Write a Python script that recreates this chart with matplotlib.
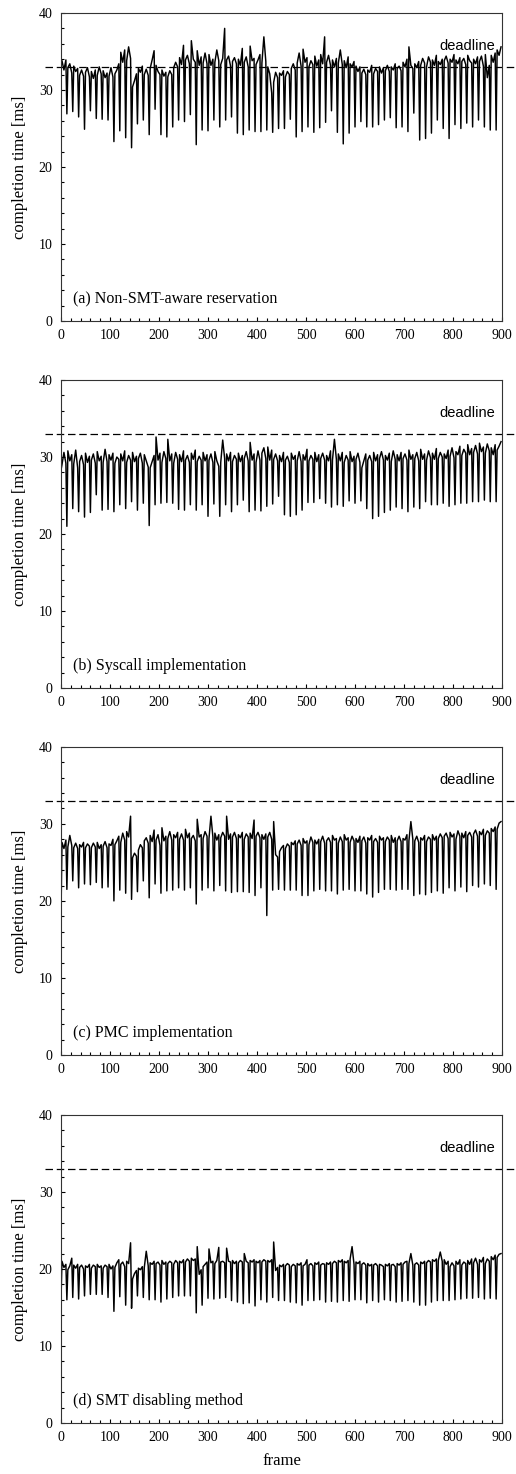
import numpy as np
import matplotlib
matplotlib.use('Agg')
import matplotlib.pyplot as plt
from matplotlib.ticker import MultipleLocator

plt.rcParams['font.family'] = ['Liberation Serif', 'DejaVu Serif']

# Datos: tiempo de finalizacion por frame [ms]
# Linea base muestreada cada 4 frames (2, 6, 10, ..., 898)
base_frames = np.arange(2, 900, 4)
# Caidas periodicas (una cada 12 frames, empezando en el frame 0)
dip_frames = np.arange(0, 889, 12)

base_a = [
    33.8, 32.6, 33.9, 32.9, 33.4, 32.2, 33.1, 32.4, 32.8, 31.9, 32.6, 31.8, 32.3, 32.9, 31.7,
    32.4, 31.5, 32.6, 31.9, 33.0, 32.1, 32.5, 31.6, 32.2, 31.8, 32.9, 31.7, 32.1, 32.6, 33.4,
    34.9, 33.6, 35.2, 33.8, 35.6, 34.1, 30.4, 31.2, 32.1, 32.8, 32.3, 33.1, 32.0, 32.7, 31.9,
    32.8, 33.9, 35.1, 33.2, 32.4, 32.0, 32.6, 31.8, 32.3, 31.7, 32.5, 32.0, 32.9, 33.6, 33.0,
    34.2, 33.3, 35.8, 33.9, 34.5, 33.4, 36.4, 34.0, 33.6, 35.1, 33.2, 34.3, 33.5, 34.8, 33.4,
    34.6, 33.2, 34.0, 33.6, 35.2, 33.8, 33.3, 34.1, 38.0, 33.9, 34.4, 33.1, 33.7, 34.2, 33.4,
    34.0, 33.2, 35.4, 33.6, 34.3, 33.0, 35.7, 33.8, 34.1, 33.3, 33.9, 34.6, 33.5, 36.9, 33.7,
    33.0, 32.1, 29.6, 31.0, 32.3, 31.6, 32.2, 31.9, 32.5, 31.7, 32.4, 32.0, 32.8, 33.4, 32.6,
    33.5, 34.8, 33.1, 35.3, 33.6, 34.2, 33.0, 33.8, 33.3, 34.4, 33.1, 33.9, 34.6, 33.4, 36.9,
    33.6, 34.5, 33.2, 33.9, 33.0, 34.1, 33.5, 35.2, 33.3, 33.8, 32.9, 34.3, 33.4, 33.0, 33.7,
    33.1, 32.4, 33.0, 32.2, 32.7, 32.0, 32.6, 32.3, 33.2, 32.1, 32.8, 32.4, 33.0, 32.2, 32.9,
    32.5, 33.2, 32.4, 33.0, 32.6, 33.4, 32.8, 33.1, 32.5, 33.6, 33.0, 34.0, 35.6, 33.2, 32.8,
    33.4, 32.9, 33.7, 33.2, 34.1, 33.5, 33.0, 34.3, 33.6, 33.9, 33.2, 34.5, 33.7, 33.3, 34.0,
    33.8, 34.4, 33.5, 34.0, 33.6, 34.6, 33.9, 33.4, 34.2, 33.7, 34.1, 33.3, 34.5, 33.8, 33.5,
    34.0, 33.4, 34.3, 33.7, 34.4, 33.1, 34.6, 31.6, 33.2, 34.5, 33.6, 34.8, 35.2, 34.5, 35.6,
]
dip_a = [
    33.5, 26.9, 27.2, 26.5, 24.9, 27.3, 26.3, 26.2, 26.1, 23.3, 24.7,
    23.8, 22.5, 25.6, 26.1, 24.2, 27.5, 24.2, 23.9, 25.2, 26.1,
    25.9, 26.8, 22.9, 24.8, 24.7, 26.1, 25.2, 26.1, 26.5, 24.4,
    24.2, 24.8, 24.6, 24.6, 24.8, 24.5, 25.0, 25.0, 26.2, 23.9,
    24.6, 25.2, 24.5, 25.1, 25.8, 27.3, 24.5, 23.0, 24.4, 25.2,
    25.9, 25.2, 25.2, 25.5, 26.1, 26.4, 25.1, 25.2, 24.6, 27.0,
    23.5, 23.7, 24.4, 26.1, 25.0, 23.7, 25.5, 25.0, 25.7, 25.2,
    26.1, 25.2, 24.8, 24.8,
]

base_b = [
    29.0, 30.6, 29.2, 30.8, 29.5, 30.3, 29.1, 30.9, 28.6, 29.4, 30.2, 29.0, 30.5, 29.3, 30.1,
    29.6, 30.4, 29.2, 30.7, 29.5, 30.1, 29.3, 31.0, 29.4, 30.3, 29.6, 30.5, 29.2, 30.0, 29.7,
    30.4, 29.5, 30.8, 29.3, 30.2, 29.6, 30.6, 29.4, 30.1, 29.8, 30.5, 29.2, 30.3, 29.5, 28.7,
    28.6, 29.4, 30.2, 32.6, 29.6, 30.5, 29.3, 30.7, 29.8, 32.3, 29.5, 30.4, 29.2, 30.6, 29.7,
    30.3, 29.4, 30.8, 29.6, 30.2, 29.3, 30.5, 29.7, 30.9, 29.4, 30.1, 29.6, 30.6, 29.5, 30.3,
    29.6, 30.4, 29.3, 30.7, 29.5, 28.8, 29.3, 32.2, 29.8, 30.4, 29.5, 30.6, 29.4, 30.2, 29.7,
    30.5, 29.4, 30.2, 29.8, 30.7, 29.5, 31.9, 29.6, 30.4, 29.3, 30.8, 29.6, 30.5, 31.2, 29.8,
    31.3, 29.6, 30.9, 29.7, 30.4, 29.5, 30.2, 29.4, 30.6, 29.6, 30.1, 29.3, 30.5, 29.7, 30.2,
    29.5, 30.7, 29.4, 30.3, 29.6, 31.0, 29.5, 30.2, 29.7, 30.6, 29.4, 30.3, 29.8, 30.5, 29.6,
    30.2, 29.5, 30.8, 29.6, 32.3, 29.7, 30.4, 29.5, 30.6, 29.3, 30.2, 29.6, 30.7, 29.4, 30.1,
    29.7, 30.5, 29.3, 28.6, 29.5, 30.4, 29.6, 30.2, 29.4, 30.6, 29.5, 30.3, 29.8, 30.7, 29.6,
    30.2, 29.6, 30.5, 29.4, 30.8, 29.7, 30.3, 29.5, 30.6, 29.8, 30.4, 29.6, 30.9, 29.7, 30.3,
    29.8, 30.6, 29.5, 31.0, 29.7, 30.4, 29.6, 30.8, 29.9, 30.5, 29.7, 31.1, 29.8, 30.6, 30.0,
    30.4, 29.8, 30.9, 30.1, 31.2, 29.9, 30.7, 30.3, 31.4, 30.2, 31.0, 30.5, 31.6, 30.3, 31.1,
    30.6, 31.5, 30.4, 31.8, 30.7, 31.3, 30.5, 31.7, 30.8, 31.2, 30.3, 31.6, 30.9, 31.4, 32.0,
]
dip_b = [
    28.3, 21.0, 23.3, 22.9, 22.2, 22.8, 25.1, 23.1, 23.2, 22.9, 23.8,
    23.3, 24.2, 23.1, 24.0, 21.1, 23.8, 24.0, 24.1, 24.0, 23.2,
    23.1, 23.8, 23.1, 23.8, 22.3, 23.9, 22.3, 23.8, 22.9, 23.8,
    24.4, 22.9, 23.1, 23.0, 23.6, 23.9, 24.9, 22.5, 22.3, 22.5,
    23.1, 24.1, 24.1, 24.6, 24.0, 23.5, 23.8, 23.6, 24.3, 24.0,
    24.3, 23.3, 22.0, 22.3, 22.8, 23.1, 23.5, 23.3, 22.9, 23.5,
    23.3, 24.2, 23.8, 23.8, 24.0, 23.6, 23.8, 24.0, 24.0, 24.2,
    24.2, 24.4, 24.2, 24.2,
]

base_c = [
    27.6, 26.8, 27.9, 27.0, 28.5, 27.2, 26.9, 27.5, 26.8, 27.3, 27.0, 27.6, 26.9, 27.4, 27.1,
    26.9, 27.5, 27.0, 27.6, 26.8, 27.3, 27.1, 27.7, 26.9, 27.4, 27.2, 28.0, 27.3, 27.8, 28.4,
    27.6, 28.8, 27.9, 29.0, 28.3, 31.0, 25.6, 26.2, 25.8, 26.6, 27.3, 26.9, 27.8, 28.2, 27.5,
    28.5, 27.7, 29.2, 27.9, 28.6, 27.2, 29.5, 27.8, 28.4, 28.1, 29.0, 27.9, 28.6, 28.2, 28.9,
    28.0, 28.7, 27.9, 29.3, 28.2, 28.8, 28.1, 28.5, 27.8, 30.6, 28.3, 28.6, 28.1, 29.0, 28.4,
    28.1, 31.0, 28.3, 28.8, 27.9, 28.6, 28.2, 28.9, 28.4, 31.0, 28.0, 28.7, 28.3, 28.9, 28.1,
    28.6, 28.2, 28.9, 28.0, 28.7, 28.3, 28.8, 28.1, 30.5, 28.4, 28.9, 28.2, 28.6, 28.0, 28.7,
    28.3, 28.9, 28.0, 30.3, 26.0, 25.7, 26.4, 26.9, 27.2, 26.8, 27.4, 27.1, 27.6, 27.3, 27.8,
    27.4, 27.9, 27.2, 28.1, 27.5, 27.8, 27.3, 28.3, 27.6, 27.9, 27.4, 28.0, 27.7, 28.4, 27.5,
    27.8, 28.2, 27.6, 28.5, 27.9, 28.1, 27.5, 28.3, 27.7, 28.6, 27.9, 28.2, 27.6, 28.4, 27.8,
    28.1, 27.6, 28.4, 27.8, 28.3, 27.5, 28.2, 27.9, 28.5, 27.7, 28.1, 27.6, 28.4, 27.9, 28.2,
    27.7, 28.3, 27.9, 28.5, 27.6, 28.2, 27.8, 28.4, 27.7, 28.1, 27.9, 28.6, 27.8, 30.3, 28.0,
    27.8, 28.4, 27.6, 28.2, 27.9, 28.5, 27.7, 28.3, 28.0, 28.6, 27.9, 28.4, 28.1, 28.7, 28.2,
    28.4, 28.8, 28.1, 28.9, 28.3, 28.7, 28.0, 29.1, 28.4, 28.8, 28.2, 29.0, 28.5, 28.9, 28.3,
    28.7, 29.2, 28.4, 29.0, 28.6, 29.3, 28.5, 29.1, 28.8, 29.4, 29.0, 29.6, 29.3, 30.1, 30.3,
]
dip_c = [
    18.0, 21.5, 22.6, 21.7, 22.2, 22.1, 22.4, 21.7, 21.8, 20.0, 21.4,
    21.0, 20.2, 21.2, 22.6, 20.4, 22.2, 21.0, 21.3, 21.4, 21.7,
    21.4, 21.7, 19.6, 21.4, 21.7, 21.3, 22.0, 21.3, 21.1, 21.2,
    21.2, 21.1, 20.7, 21.7, 18.1, 21.4, 21.5, 21.4, 21.4, 21.4,
    20.7, 20.7, 21.3, 21.5, 21.3, 21.3, 20.9, 21.4, 21.5, 21.3,
    21.3, 20.9, 20.5, 21.1, 21.5, 21.5, 21.4, 21.5, 21.5, 20.7,
    20.9, 20.8, 21.1, 21.3, 21.0, 21.7, 21.3, 21.8, 21.2, 22.0,
    21.8, 22.2, 22.0, 21.5,
]

base_d = [
    21.0, 20.2, 20.6, 19.9, 20.4, 21.4, 20.5, 20.1, 20.6, 20.2, 20.5, 20.0, 20.4, 20.2, 20.6,
    20.1, 20.5, 20.3, 20.6, 20.2, 20.4, 20.1, 20.5, 20.3, 20.6, 20.0, 20.4, 20.2, 20.8, 21.2,
    20.6, 20.9, 20.3, 21.0, 20.7, 23.4, 18.7, 19.4, 19.8, 20.1, 19.9, 20.3, 20.2, 22.3, 20.4,
    20.8, 20.6, 21.0, 20.7, 20.9, 20.5, 21.1, 20.6, 20.9, 20.7, 21.0, 20.8, 20.6, 21.1, 20.8,
    21.0, 20.8, 21.2, 20.9, 21.3, 21.0, 21.4, 21.1, 21.3, 22.9, 19.3, 19.9, 20.3, 20.6, 20.9,
    22.6, 20.8, 21.0, 20.7, 21.1, 22.8, 20.9, 21.0, 20.8, 22.7, 21.0, 20.9, 21.1, 20.7, 21.0,
    20.8, 21.1, 20.9, 22.0, 21.0, 20.8, 21.1, 20.9, 21.2, 21.0, 20.8, 21.1, 20.9, 21.2, 21.0,
    21.1, 20.9, 21.2, 23.5, 19.8, 20.2, 20.5, 20.3, 20.6, 20.4, 20.7, 20.5, 20.3, 20.6, 20.4,
    20.7, 20.5, 20.8, 20.4, 20.6, 21.2, 20.5, 20.7, 20.4, 20.8, 20.6, 20.9, 20.5, 20.7, 20.6,
    20.8, 20.6, 20.9, 20.7, 21.0, 20.8, 21.1, 20.9, 21.2, 21.0, 20.8, 21.1, 21.3, 22.9, 20.6,
    20.9, 20.7, 21.0, 20.6, 20.8, 20.5, 20.7, 20.4, 20.6, 20.5, 20.7, 20.4, 20.6, 20.5, 20.3,
    20.6, 20.4, 20.7, 20.5, 20.6, 20.3, 20.7, 20.5, 20.8, 20.6, 20.9, 21.0, 20.7, 22.0, 20.5,
    20.6, 20.8, 20.5, 20.9, 20.7, 21.0, 20.8, 21.1, 20.9, 21.2, 21.0, 21.3, 21.1, 22.2, 21.0,
    21.2, 20.6, 21.0, 20.3, 20.8, 20.4, 21.0, 20.6, 21.2, 20.5, 20.9, 20.7, 21.1, 20.6, 21.3,
    20.8, 21.4, 20.6, 21.2, 20.9, 21.5, 20.7, 21.3, 21.0, 21.6, 21.2, 21.8, 21.5, 21.9, 22.0,
]
dip_d = [
    16.0, 16.0, 16.3, 16.1, 16.5, 16.7, 16.7, 16.7, 16.3, 14.5, 16.4,
    15.3, 14.9, 16.5, 16.3, 16.0, 16.0, 15.7, 16.1, 16.3, 16.5,
    16.5, 16.5, 14.3, 15.3, 16.2, 16.1, 16.2, 16.3, 15.9, 15.7,
    15.5, 15.6, 15.2, 16.0, 15.7, 16.3, 15.9, 15.9, 15.7, 15.6,
    15.3, 15.9, 15.9, 16.0, 15.7, 15.8, 15.7, 15.9, 15.8, 16.0,
    16.0, 15.6, 15.9, 15.7, 16.0, 15.9, 15.7, 15.8, 15.9, 15.7,
    15.3, 15.3, 15.7, 15.9, 15.9, 15.9, 16.0, 16.1, 16.2, 16.2,
    16.3, 16.1, 16.2, 16.1,
]

labels = ['(a) Non-SMT-aware reservation', '(b) Syscall implementation',
          '(c) PMC implementation', '(d) SMT disabling method']
deadline = 33

series = [(base_a, dip_a), (base_b, dip_b), (base_c, dip_c), (base_d, dip_d)]
bottoms = [0.7822, 0.5332, 0.2843, 0.0346]

fig = plt.figure(figsize=(5.16, 14.74), dpi=100)

for (base, dips), label, bottom in zip(series, labels, bottoms):
    assert len(base) == len(base_frames) and len(dips) == len(dip_frames)
    ax = fig.add_axes([0.1182, bottom, 0.8547, 0.2090])

    # juntar linea base y caidas en orden de frame
    x = np.concatenate([base_frames, dip_frames])
    y = np.concatenate([base, dips])
    order = np.argsort(x, kind='stable')
    ax.plot(x[order], y[order], color='black', lw=1.05)

    # linea de deadline (sale fuera de los ejes)
    ax.plot([-33, 940], [deadline, deadline], color='black', lw=0.9,
            linestyle=(0, (6, 3)), clip_on=False)
    ax.text(886, 35.15, 'deadline', ha='right', va='baseline',
            family=['Liberation Sans', 'DejaVu Sans'], fontsize=10.5)
    ax.text(24.5, 2.3, label, ha='left', va='baseline', fontsize=11.5)

    ax.set_xlim(0, 900)
    ax.set_ylim(0, 40)
    ax.xaxis.set_major_locator(MultipleLocator(100))
    ax.xaxis.set_minor_locator(MultipleLocator(20))
    ax.yaxis.set_major_locator(MultipleLocator(10))
    ax.yaxis.set_minor_locator(MultipleLocator(2))
    ax.tick_params(which='both', direction='in', top=False, right=False,
                   labelsize=10, width=0.8)
    ax.tick_params(which='major', length=3, pad=6)
    ax.tick_params(which='minor', length=2)
    for s in ax.spines.values():
        s.set_linewidth(0.8)
        s.set_color('#333333')

    ax.set_ylabel('completion time [ms]', fontsize=12)
    ax.yaxis.set_label_coords(-0.075, 0.5)

ax.set_xlabel('frame', fontsize=12, labelpad=6)

fig.savefig('out.png', dpi=100)
